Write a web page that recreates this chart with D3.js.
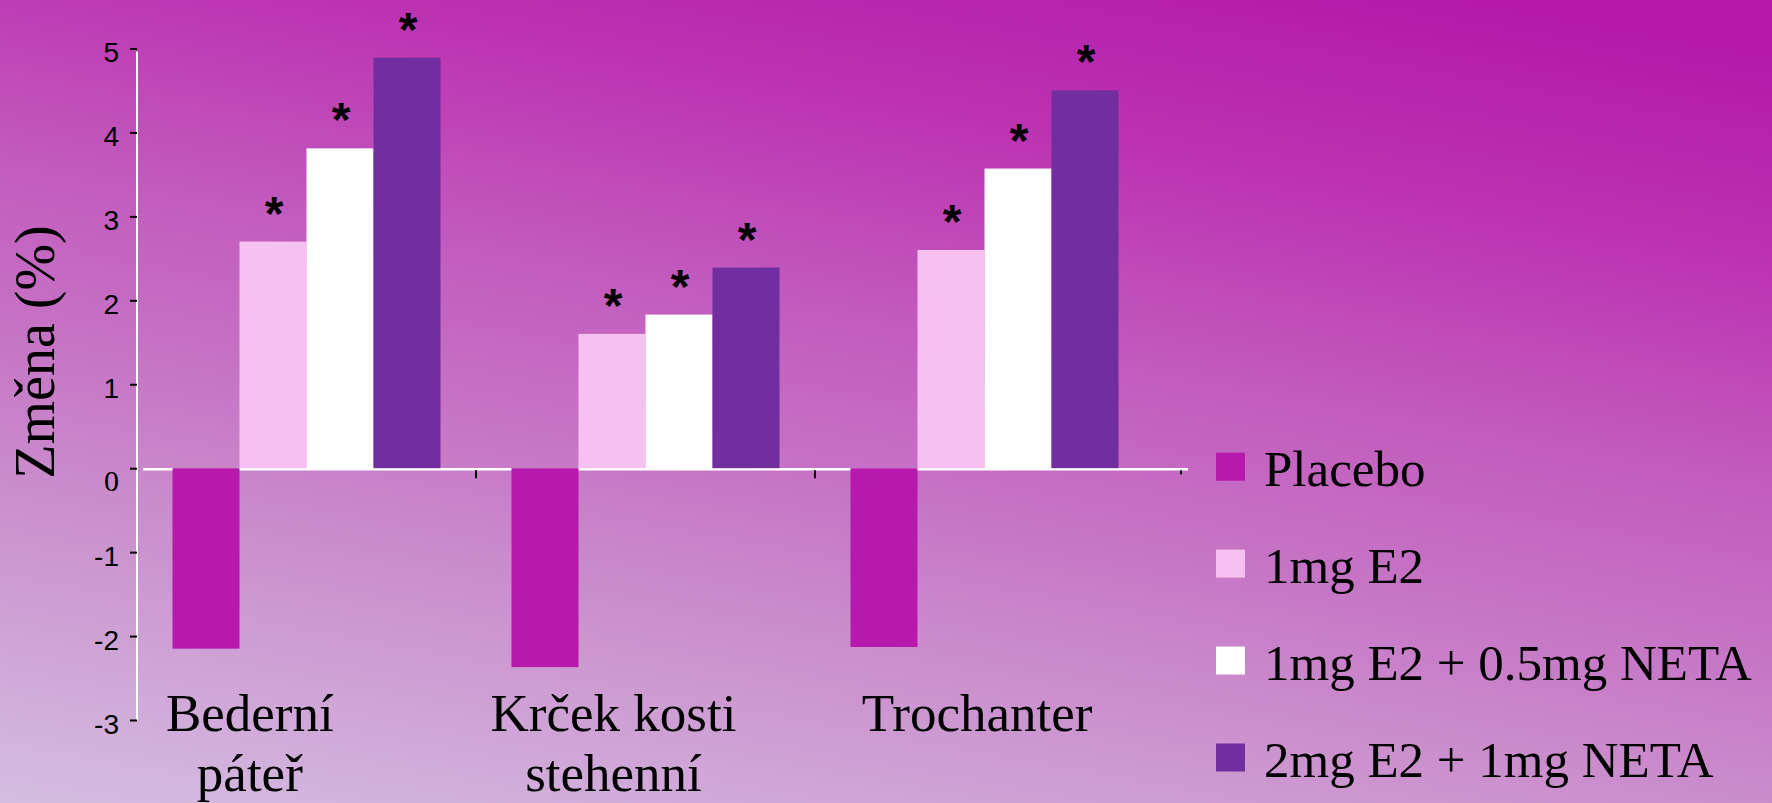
<!DOCTYPE html>
<html>
<head>
<meta charset="utf-8">
<script src="https://cdn.jsdelivr.net/npm/d3@7"></script>
<style>
  html, body { margin: 0; padding: 0; overflow: hidden; background: #c77ac6; }
  svg { display: block; }
</style>
</head>
<body>
<svg id="chart" width="1772" height="803"></svg>
<script>
// Bone mineral density change (%) by site and treatment arm
const categories = ["Bederní páteř", "Krček kosti stehenní", "Trochanter"];
const categoryLines = [["Bederní", "páteř"], ["Krček kosti", "stehenní"], ["Trochanter"]];
const seriesNames = ["Placebo", "1mg E2", "1mg E2 + 0.5mg NETA", "2mg E2 + 1mg NETA"];
const placebo = [-2.15, -2.37, -2.13];
const e2 = [2.70, 1.60, 2.60];
const e2Neta05 = [3.81, 1.83, 3.57];
const e2Neta1 = [4.89, 2.39, 4.50];
const significant = [false, true, true, true];
const yTicks = [-3, -2, -1, 0, 1, 2, 3, 4, 5];
const yLabel = "Změna (%)";

const seriesValues = [placebo, e2, e2Neta05, e2Neta1];
const seriesColors = ["#b619ab", "#f6c1f0", "#ffffff", "#702e9e"];

const W = 1772, H = 803;
const svg = d3.select("#chart");

// background gradient (light lavender bottom-left to magenta top-right)
const defs = svg.append("defs");
const grad = defs.append("linearGradient")
  .attr("id", "bg")
  .attr("gradientUnits", "userSpaceOnUse")
  .attr("x1", 0).attr("y1", H)
  .attr("x2", 188).attr("y2", -234);
[[0, "#d4bde1"], [0.3, "#ca8dcc"], [0.45, "#c672c5"], [0.6, "#c25bbd"], [0.8, "#bc33b2"], [1, "#b419a8"]]
  .forEach(([o, c]) => grad.append("stop").attr("offset", o).attr("stop-color", c));
svg.append("rect").attr("width", W).attr("height", H).attr("fill", "url(#bg)");

// scales
const y = d3.scaleLinear().domain([-3, 5]).range([720, 48.5]);
const x = d3.scaleBand().domain(categories).range([137, 1154]);
const groupWidth = 268;
const xs = d3.scaleBand().domain(seriesNames).range([0, groupWidth]);
const groupOffset = (x.bandwidth() - groupWidth) / 2;
const labelX = d3.scaleBand().domain(categories).range([68, 1159]);

const serif = "'Liberation Serif', 'Times New Roman', serif";
const sans = "'Liberation Sans', Arial, sans-serif";

// x axis line at zero with category boundary ticks
const y0 = y(0);
svg.append("line")
  .attr("x1", 143).attr("x2", 1188)
  .attr("y1", y0 + 1).attr("y2", y0 + 1)
  .attr("stroke", "#ffffff").attr("stroke-width", 2.5);
const boundaries = categories.slice(1).map(c => x(c)).concat([1181]);
svg.selectAll(".xtick").data(boundaries).join("line")
  .attr("class", "xtick")
  .attr("x1", d => d).attr("x2", d => d)
  .attr("y1", y0 + 2).attr("y2", (d, i) => i === boundaries.length - 1 ? y0 + 6 : y0 + 10)
  .attr("stroke", "#000").attr("stroke-width", 2);

// y axis
const yAxis = d3.axisLeft(y).tickValues(yTicks).tickSize(7).tickSizeOuter(0).tickPadding(11)
  .tickFormat(d => String(d));
const gy = svg.append("g").attr("transform", "translate(137,0)").call(yAxis);
gy.select(".domain").attr("stroke", "#ffffff").attr("stroke-width", 2)
  .attr("d", `M0,${y(5) + 3}V${y(-3)}`);
gy.selectAll(".tick line").attr("stroke", "#000").attr("stroke-width", 2);
gy.selectAll(".tick text")
  .attr("fill", "#000")
  .attr("font-family", sans)
  .attr("font-size", 28)
  .attr("dy", "0.48em");
gy.selectAll(".tick text").filter(d => d === 0)
  .attr("font-family", serif)
  .attr("font-size", 30)
  .attr("dy", "0.75em");

// bars
const barData = [];
categories.forEach((c, ci) => {
  seriesNames.forEach((s, si) => {
    barData.push({ cat: c, series: si, name: s, value: seriesValues[si][ci] });
  });
});
svg.selectAll(".bar").data(barData).join("rect")
  .attr("class", "bar")
  .attr("x", d => x(d.cat) + groupOffset + xs(d.name))
  .attr("width", xs.bandwidth())
  .attr("y", d => y(Math.max(0, d.value)))
  .attr("height", d => Math.abs(y(d.value) - y(0)))
  .attr("fill", d => seriesColors[d.series]);

// significance markers
svg.selectAll(".star").data(barData.filter(d => significant[d.series])).join("text")
  .attr("class", "star")
  .attr("x", d => x(d.cat) + groupOffset + xs(d.name) + xs.bandwidth() / 2 + 1)
  .attr("y", d => y(d.value) - 12)
  .attr("text-anchor", "middle")
  .attr("font-family", sans)
  .attr("font-weight", "bold")
  .attr("font-size", 48)
  .attr("fill", "#000")
  .text("*");

// category labels
const catG = svg.selectAll(".cat").data(categories).join("text")
  .attr("class", "cat")
  .attr("text-anchor", "middle")
  .attr("font-family", serif)
  .attr("font-size", 53)
  .attr("fill", "#000");
catG.selectAll("tspan").data((d, i) => categoryLines[i]).join("tspan")
  .attr("x", function () { const c = d3.select(this.parentNode).datum(); return labelX(c) + labelX.bandwidth() / 2; })
  .attr("y", (d, i) => 731 + i * 60)
  .text(d => d);

// y axis title
svg.append("text")
  .attr("transform", `translate(54,352) rotate(-90)`)
  .attr("text-anchor", "middle")
  .attr("font-family", serif)
  .attr("font-size", 56)
  .attr("fill", "#000")
  .text(yLabel);

// legend
const legendRow = d3.scaleLinear().domain([0, seriesNames.length - 1]).range([485.7, 776.5]);
const leg = svg.selectAll(".leg").data(seriesNames).join("g")
  .attr("class", "leg")
  .attr("transform", (d, i) => `translate(0,${legendRow(i)})`);
leg.append("rect")
  .attr("x", 1216).attr("y", -33)
  .attr("width", 29).attr("height", 28)
  .attr("fill", (d, i) => seriesColors[i]);
leg.append("text")
  .attr("x", 1264).attr("y", 0)
  .attr("font-family", serif)
  .attr("font-size", 51)
  .attr("fill", "#000")
  .text(d => d);
</script>
</body>
</html>
